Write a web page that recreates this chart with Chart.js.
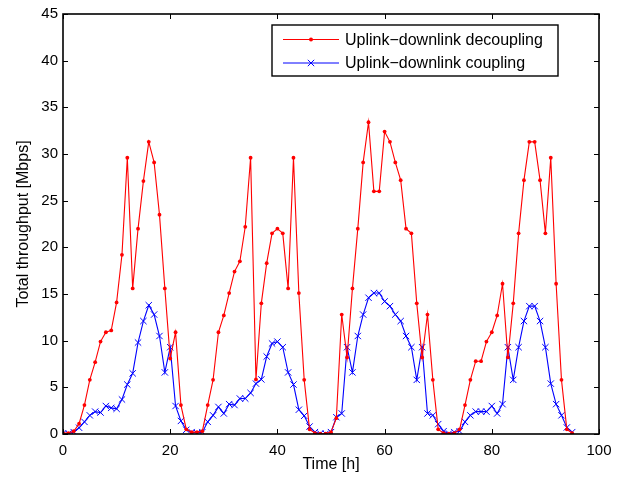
<!DOCTYPE html>
<html>
<head>
<meta charset="utf-8">
<script src="https://cdn.jsdelivr.net/npm/chart.js@4"></script>
<style>
  html, body { margin: 0; padding: 0; background: #fff; }
  #wrap { width: 623px; height: 479px; }
</style>
</head>
<body>
<div id="wrap"><canvas id="chart" width="623" height="479"></canvas></div>
<script>
// --- Data ---
const hours = [0,1,2,3,4,5,6,7,8,9,10,11,12,13,14,15,16,17,18,19,20,21,22,23,
  24,25,26,27,28,29,30,31,32,33,34,35,36,37,38,39,40,41,42,43,44,45,46,47,
  48,49,50,51,52,53,54,55,56,57,58,59,60,61,62,63,64,65,66,67,68,69,70,71,
  72,73,74,75,76,77,78,79,80,81,82,83,84,85,86,87,88,89,90,91,92,93,94,95];

const decoupling = [0.1,0.1,0.3,1.1,3.1,5.8,7.7,9.9,10.9,11.1,14.1,19.2,29.6,15.6,22.0,27.1,31.3,29.1,23.5,15.6,8.1,10.9,3.1,0.5,
  0.2,0.2,0.3,3.1,5.8,10.9,12.7,15.1,17.4,18.5,22.2,29.6,5.85,14.0,18.3,21.5,22.0,21.5,15.6,29.6,15.1,5.8,0.5,0.1,
  0.05,0.05,0.2,1.7,12.8,8.2,15.6,22.0,29.1,33.4,26.0,26.0,32.4,31.3,29.1,27.2,22.0,21.5,14.0,8.2,12.8,5.8,0.5,0.1,
  0.05,0.1,0.5,3.1,5.8,7.8,7.8,9.9,10.9,12.7,16.1,8.2,14.0,21.5,27.2,31.3,31.3,27.2,21.5,29.6,16.1,5.8,0.5,0.1];

const coupling = [0.05,0.05,0.2,0.67,1.3,2.0,2.4,2.3,3.0,2.8,2.7,3.7,5.3,6.5,9.8,12.1,13.8,12.8,10.5,6.6,9.3,3.0,1.4,0.45,
  0.2,0.1,0.2,1.3,2.0,2.9,2.2,3.2,3.1,3.8,3.8,4.4,5.4,5.85,8.3,9.7,9.9,9.3,6.6,5.3,2.6,1.95,0.8,0.2,
  0.05,0.03,0.2,1.8,2.2,9.3,6.6,10.5,12.8,14.6,15.1,15.1,14.2,13.7,12.8,12.1,10.5,9.3,5.8,9.3,2.2,2.0,1.06,0.3,
  0.05,0.2,0.3,1.3,2.0,2.4,2.4,2.4,3.0,2.2,3.2,9.3,5.8,9.3,12.1,13.7,13.7,12.1,9.3,5.4,3.2,2.0,0.7,0.2];

const seriesNames = ["Uplink\u2212downlink decoupling", "Uplink\u2212downlink coupling"];
const xTicks = [0, 20, 40, 60, 80, 100];
const yTicks = [0, 5, 10, 15, 20, 25, 30, 35, 40, 45];

const FONT = "'Liberation Sans', Arial, Helvetica, sans-serif";

// --- Box, inward ticks and legend (MATLAB look) ---
const matlabFrame = {
  id: "matlabFrame",
  afterDraw(chart) {
    const { ctx, chartArea: a, scales } = chart;
    const tl = 5;
    ctx.save();
    ctx.strokeStyle = "#000";
    ctx.lineWidth = 1;
    ctx.beginPath();
    xTicks.forEach(t => {
      const x = Math.round(scales.x.getPixelForValue(t)) + 0.5;
      ctx.moveTo(x, a.bottom); ctx.lineTo(x, a.bottom - tl);
      ctx.moveTo(x, a.top); ctx.lineTo(x, a.top + tl);
    });
    yTicks.forEach(t => {
      const y = Math.round(scales.y.getPixelForValue(t)) + 0.5;
      ctx.moveTo(a.left, y); ctx.lineTo(a.left + tl, y);
      ctx.moveTo(a.right, y); ctx.lineTo(a.right - tl, y);
    });
    ctx.stroke();
    ctx.lineWidth = 1.6;
    ctx.strokeRect(a.left, a.top, a.right - a.left, a.bottom - a.top);

    // legend box
    const bx = 272, by = 25, bw = 286, bh = 51;
    ctx.fillStyle = "#fff";
    ctx.fillRect(bx, by, bw, bh);
    ctx.lineWidth = 1.4;
    ctx.strokeRect(bx, by, bw, bh);
    const rows = [
      { y: 39.5, color: "#ff0000", mark: "dot" },
      { y: 63, color: "#0000ff", mark: "cross" }
    ];
    ctx.font = "16px " + FONT;
    ctx.textBaseline = "middle";
    ctx.lineWidth = 1;
    rows.forEach((r, i) => {
      ctx.strokeStyle = r.color;
      ctx.fillStyle = r.color;
      ctx.beginPath();
      ctx.moveTo(283, r.y); ctx.lineTo(339, r.y);
      ctx.stroke();
      const mx = 311;
      if (r.mark === "dot") {
        ctx.beginPath(); ctx.arc(mx, r.y, 2, 0, Math.PI * 2); ctx.fill();
      } else {
        ctx.beginPath();
        ctx.moveTo(mx - 3.2, r.y - 3.2); ctx.lineTo(mx + 3.2, r.y + 3.2);
        ctx.moveTo(mx + 3.2, r.y - 3.2); ctx.lineTo(mx - 3.2, r.y + 3.2);
        ctx.stroke();
      }
      ctx.fillStyle = "#000";
      ctx.fillText(seriesNames[i], 345, r.y + 1);
    });
    ctx.restore();
  }
};

const ctx = document.getElementById("chart").getContext("2d");
new Chart(ctx, {
  type: "line",
  data: {
    datasets: [
      {
        label: seriesNames[0],
        data: hours.map((h, i) => ({ x: h, y: decoupling[i] })),
        borderColor: "#ff0000",
        backgroundColor: "#ff0000",
        borderWidth: 1.1,
        pointStyle: "circle",
        pointRadius: 1.9,
        pointBorderWidth: 0,
        tension: 0,
        fill: false
      },
      {
        label: seriesNames[1],
        data: hours.map((h, i) => ({ x: h, y: coupling[i] })),
        borderColor: "#0000ff",
        backgroundColor: "#0000ff",
        borderWidth: 1.1,
        pointStyle: "crossRot",
        pointRadius: 4.5,
        pointBorderWidth: 1,
        tension: 0,
        fill: false
      }
    ]
  },
  options: {
    responsive: false,
    animation: false,
    layout: { padding: { top: 13, right: 24, left: 0, bottom: 0 } },
    plugins: {
      legend: { display: false },
      tooltip: { enabled: false }
    },
    scales: {
      x: {
        type: "linear",
        min: 0, max: 100,
        afterBuildTicks: s => { s.ticks = xTicks.map(v => ({ value: v })); },
        afterFit: s => { s.height = 45; },
        grid: { display: false, drawTicks: false },
        border: { display: false },
        ticks: { color: "#000", font: { family: FONT, size: 15 }, padding: 8, maxRotation: 0 },
        title: { display: true, text: "Time [h]", color: "#000", font: { family: FONT, size: 16 }, padding: { top: 0, bottom: 5 } }
      },
      y: {
        min: 0, max: 45,
        afterBuildTicks: s => { s.ticks = yTicks.map(v => ({ value: v })); },
        afterFit: s => { s.width = 63; },
        grid: { display: false, drawTicks: false },
        border: { display: false },
        ticks: { color: "#000", font: { family: FONT, size: 15 }, padding: 5 },
        title: { display: true, text: "Total throughput [Mbps]", color: "#000", font: { family: FONT, size: 16 }, padding: { top: 14, bottom: 0 } }
      }
    }
  },
  plugins: [matlabFrame]
});
</script>
</body>
</html>
